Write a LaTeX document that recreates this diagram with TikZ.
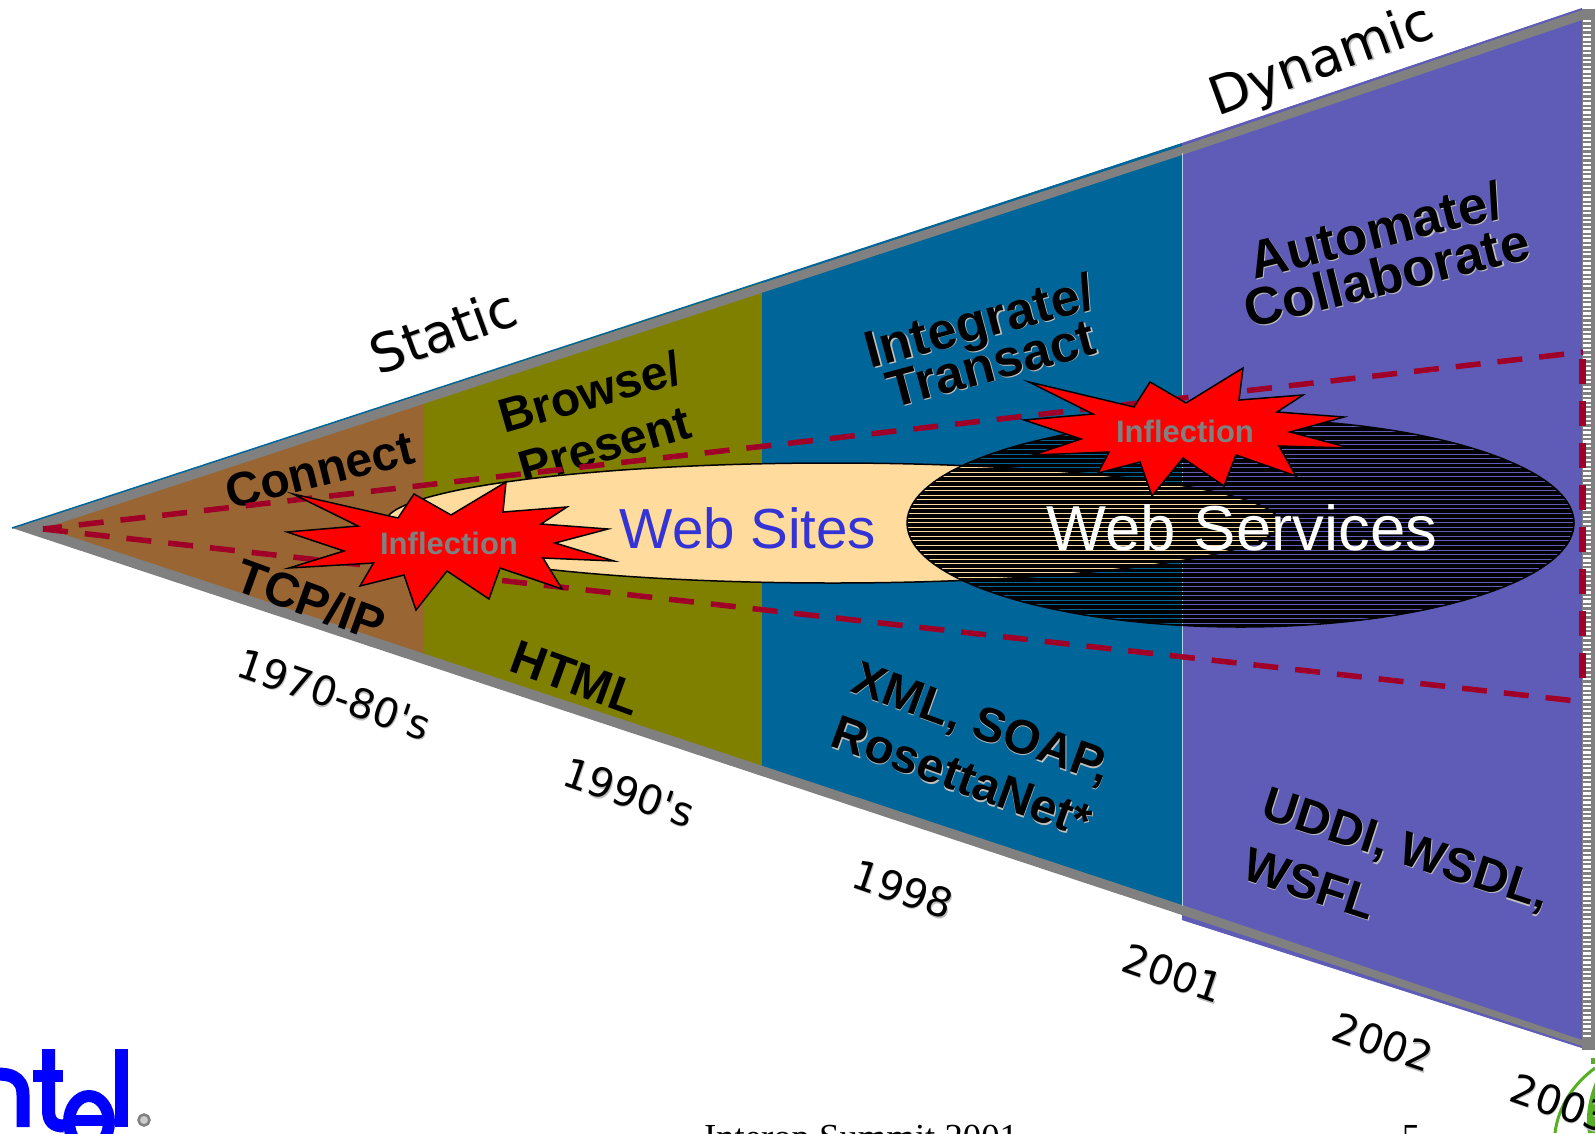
\documentclass[tikz,border=0pt]{standalone}
\usepackage{fontspec}
\setmainfont{Liberation Sans}
\newfontfamily\yearfont{DejaVu Sans}
\newfontfamily\footfont{Liberation Serif}
\definecolor{bandbrown}{HTML}{996633}
\definecolor{bandolive}{HTML}{808000}
\definecolor{bandteal}{HTML}{006699}
\definecolor{bandpurple}{HTML}{5F5CB8}
\definecolor{sitecream}{HTML}{FFDC9E}
\definecolor{dashred}{HTML}{A00028}
\definecolor{edgegray}{HTML}{808080}
\definecolor{logoblue}{HTML}{0000FF}
\definecolor{leafgreen}{HTML}{55B022}
\newcommand{\shadowed}[1]{\rlap{\kern1pt\raisebox{-1pt}{\textcolor{black!25}{#1}}}#1}
\normallineskiplimit=-100pt
\lineskiplimit=-100pt
\tikzset{
  bandlabel/.style n args={2}{inner sep=0pt, text=black, align=center, font=\bfseries\fontsize{#1}{#2}\selectfont},
  yearlabel/.style={inner sep=0pt, text=black, font=\yearfont\fontsize{40.5}{40.5}\selectfont},
  phaselabel/.style={inner sep=0pt, text=black, font=\yearfont\fontsize{53}{53}\selectfont},
  inflectlabel/.style={inner sep=0pt, text=edgegray, font=\bfseries\fontsize{31}{31}\selectfont},
  burst/.style={draw=black, line width=1.5pt, fill=red, line join=miter},
  redline/.style={dashred, line width=5.5pt, dash pattern=on 25pt off 17pt},
  logostroke/.style={logoblue, line width=13pt}
}
\begin{document}
\lineskiplimit=-100pt
\begin{tikzpicture}[x=1pt,y=1pt]
\useasboundingbox (0,0) rectangle (1595,-1133);
\fill [bandbrown] (16,-528) -- (424,-393) -- (424,-660) -- cycle;
\fill [bandolive] (424,-393) -- (762,-282) -- (762,-772) -- (424,-660) -- cycle;
\fill [bandteal] (762,-282) -- (1182,-143) -- (1182,-910) -- (762,-772) -- cycle;
\fill [bandpurple] (1182,-143) -- (1582,-8) -- (1582,-1048) -- (1182,-920) -- cycle;
\fill [edgegray] (12,-528) -- (1182,-146) -- (1582,-10) -- (1582,-20) -- (1182,-155) -- (45,-528) -- (1182,-905) -- (1582,-1040) -- (1582,-1046) -- (1182,-915) -- cycle;
\draw [bandteal, line width=1.5pt] (12,-528) -- (1182,-144);
\draw [bandpurple, line width=1.5pt] (1182,-144) -- (1582,-9);
\draw [bandpurple, line width=1.5pt] (1182,-919) -- (1582,-1047);
\draw [white!70!bandteal, line width=0.7pt] (1182,-153) -- (1182,-906);
\fill [edgegray] (1582,-9) rectangle (1595,-1050);
\foreach \barnum in {0,...,222} {
  \fill [white] (1582.5,-20-4.57*\barnum) rectangle (1591,-22.3-4.57*\barnum);
}
\fill [leafgreen] (1595,-1082) .. controls (1588,-1100) and (1585,-1118) .. (1588,-1133) -- (1595,-1133) -- cycle;
\draw [leafgreen, line width=3pt] (1595,-1068) .. controls (1572,-1085) and (1558,-1108) .. (1555,-1133);
\fill [leafgreen] (1591,-1058) rectangle (1595,-1064);
\node (static) [phaselabel, rotate=20] at (443,-331) {\shadowed{Static}};
\node (dynamic) [phaselabel, rotate=20] at (1322,-63) {\shadowed{Dynamic}};
\node (connect) [bandlabel={48}{48}, rotate=14] at (320,-470) {Connect};
\node (browse) [bandlabel={48}{55}, rotate=16] at (597,-418) {Browse/\\Present};
\node (integrate) [bandlabel={52}{44}, rotate=15] at (985,-342) {\shadowed{Integrate/}\\\shadowed{Transact}};
\node (automate) [bandlabel={53}{47}, rotate=14] at (1381,-253) {\shadowed{Automate/}\\\shadowed{Collaborate}};
\node (tcpip) [bandlabel={48}{48}, rotate=-20] at (311,-600) {TCP/IP};
\node (html) [bandlabel={48}{48}, rotate=-20] at (576,-678) {HTML};
\node (xmlsoap) [bandlabel={48}{58}, rotate=-20] at (972,-750) {\shadowed{XML, SOAP,}\\\shadowed{RosettaNet*}};
\node (uddi) [bandlabel={48}{64}, align=left, rotate=-18] at (1397,-879) {\shadowed{UDDI, WSDL,}\\\shadowed{WSFL}};
\node (y1970) [yearlabel, rotate=-19] at (334,-695) {\shadowed{1970-80's}};
\node (y1990) [yearlabel, rotate=-19] at (629,-793) {\shadowed{1990's}};
\node (y1998) [yearlabel, rotate=-19] at (903,-890) {\shadowed{1998}};
\node (y2001) [yearlabel, rotate=-19] at (1173,-974) {\shadowed{2001}};
\node (y2002) [yearlabel, rotate=-19] at (1383,-1043) {\shadowed{2002}};
\node (y2003) [yearlabel, rotate=-19] at (1561,-1104) {\shadowed{2003}};
\fill [sitecream] (832.5,-523) ellipse (447.5 and 60);
\draw [black, line width=1.5pt] (832.5,-523) ellipse (447.5 and 60);
\node (websites) [inner sep=0pt, text=blue!80!black!80!white, font=\fontsize{56.5}{56.5}\selectfont] at (748,-528) {Web Sites};
\begin{scope}
\clip (1240.5,-523) ellipse (333.5 and 104);
\foreach \barnum in {-14,...,33} {
  \fill [black] (900,-481-4.57*\barnum-1) rectangle (1580,-481-4.57*\barnum-4.57);
}
\end{scope}
\draw [black, line width=1.5pt] (1240.5,-523) ellipse (333.5 and 104);
\node (webservices) [inner sep=0pt, text=white, font=\fontsize{63.5}{63.5}\selectfont] at (1242,-528) {Web Services};
\draw [redline, dash phase=6pt] (43,-529) -- (1583,-352);
\draw [redline] (43,-529) -- (1585,-702);
\draw [redline, line width=7pt] (1582.5,-359) -- (1582.5,-681);
\draw [burst] (293,-494) -- (398,-518) -- (414,-494) -- (451,-515) -- (506,-482) -- (503,-512) -- (567,-507) -- (541,-524) -- (608,-529) -- (555,-543) -- (614,-561) -- (543,-558) -- (562,-589) -- (500,-568) -- (489,-599) -- (447,-571) -- (416,-610) -- (404,-575) -- (360,-586) -- (373.5,-563) -- (289,-568) -- (344,-551) -- (287,-532) -- (358,-526) -- cycle;
\node (inflectleft) [inflectlabel] at (449,-543) {Inflection};
\draw [burst] (1029,-382) -- (1134,-407) -- (1150,-382) -- (1186,-403) -- (1243,-368) -- (1239,-400) -- (1303,-395) -- (1277,-412) -- (1344,-417) -- (1290,-432) -- (1350,-448) -- (1279,-446) -- (1296,-476) -- (1236,-455) -- (1224,-486) -- (1183,-458) -- (1152,-496) -- (1140,-462) -- (1098,-473) -- (1109,-452) -- (1033,-455) -- (1081,-439) -- (1024,-420) -- (1093,-414) -- cycle;
\node (inflectright) [inflectlabel] at (1185,-431) {Inflection};
\draw [logostroke] (-12,-1075) .. controls (8,-1072) and (23,-1076) .. (23,-1095) -- (23,-1127);
\draw [logostroke] (48.5,-1049) -- (48.5,-1110) .. controls (48.5,-1122) and (54,-1126) .. (64,-1126);
\draw [logoblue, line width=12pt] (33,-1076) -- (63,-1076);
\draw [logoblue, line width=12pt] (89,-1122) ellipse (20 and 26);
\draw [logoblue, line width=11pt] (70,-1120.5) -- (112,-1120.5);
\draw [logostroke] (121.5,-1049) -- (121.5,-1127);
\draw [edgegray, line width=2.5pt, fill=black!20] (144,-1120) circle (5.5);
\node (footer) [inner sep=0pt, anchor=base, font=\footfont\fontsize{36.7}{36.7}\selectfont] at (861,-1149) {Interop Summit 2001};
\node (pagenum) [inner sep=0pt, anchor=base, font=\footfont\fontsize{36.7}{36.7}\selectfont] at (1411,-1149) {5};
\end{tikzpicture}
\end{document}
